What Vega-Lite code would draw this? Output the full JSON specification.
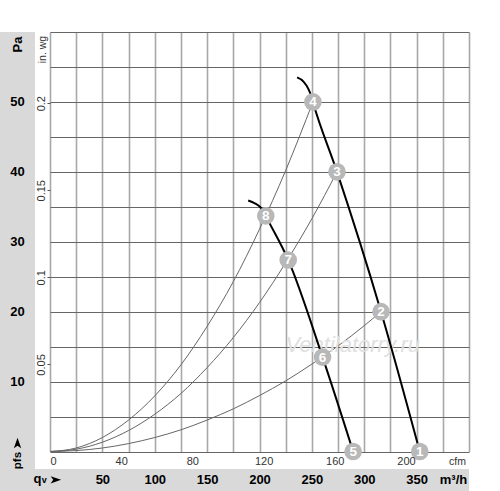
{
  "$schema": "https://vega.github.io/schema/vega-lite/v6.json",
  "width": 419,
  "height": 419.5,
  "autosize": {"type": "none"},
  "padding": {"left": 50, "top": 32, "right": 31, "bottom": 39.5},
  "background": "white",
  "config": {"view": {"stroke": null}, "font": "Liberation Sans"},
  "datasets": {
    "system": [
      {"s": "S1", "q": 0, "pa": 0}, {"s": "S1", "q": 25, "pa": 0.5}, {"s": "S1", "q": 50, "pa": 2}, {"s": "S1", "q": 75, "pa": 4.5}, {"s": "S1", "q": 100, "pa": 7.95}, {"s": "S1", "q": 125, "pa": 12.4}, {"s": "S1", "q": 150, "pa": 17.9}, {"s": "S1", "q": 175, "pa": 24.3}, {"s": "S1", "q": 200, "pa": 31.8}, {"s": "S1", "q": 225, "pa": 40.2}, {"s": "S1", "q": 251, "pa": 50},
      {"s": "S2", "q": 0, "pa": 0}, {"s": "S2", "q": 25, "pa": 0.33}, {"s": "S2", "q": 50, "pa": 1.33}, {"s": "S2", "q": 75, "pa": 3}, {"s": "S2", "q": 100, "pa": 5.33}, {"s": "S2", "q": 125, "pa": 8.3}, {"s": "S2", "q": 150, "pa": 12}, {"s": "S2", "q": 175, "pa": 16.3}, {"s": "S2", "q": 200, "pa": 21.3}, {"s": "S2", "q": 225, "pa": 27}, {"s": "S2", "q": 250, "pa": 33.3}, {"s": "S2", "q": 274, "pa": 40},
      {"s": "S3", "q": 0, "pa": 0}, {"s": "S3", "q": 25, "pa": 0.13}, {"s": "S3", "q": 50, "pa": 0.5}, {"s": "S3", "q": 75, "pa": 1.13}, {"s": "S3", "q": 100, "pa": 2}, {"s": "S3", "q": 125, "pa": 3.1}, {"s": "S3", "q": 150, "pa": 4.5}, {"s": "S3", "q": 175, "pa": 6.1}, {"s": "S3", "q": 200, "pa": 8}, {"s": "S3", "q": 225, "pa": 10.1}, {"s": "S3", "q": 250, "pa": 12.5}, {"s": "S3", "q": 275, "pa": 15.1}, {"s": "S3", "q": 300, "pa": 18}, {"s": "S3", "q": 316, "pa": 20}
    ],
    "fan": [
      {"s": "A", "q": 235.9, "pa": 53.5}, {"s": "A", "q": 242, "pa": 52.9}, {"s": "A", "q": 246.5, "pa": 51.9}, {"s": "A", "q": 249.5, "pa": 50.8}, {"s": "A", "q": 251, "pa": 50}, {"s": "A", "q": 274, "pa": 40}, {"s": "A", "q": 316, "pa": 20}, {"s": "A", "q": 353, "pa": 0},
      {"s": "B", "q": 189.2, "pa": 35.9}, {"s": "B", "q": 195.6, "pa": 35.5}, {"s": "B", "q": 200.4, "pa": 35}, {"s": "B", "q": 203.7, "pa": 34.4}, {"s": "B", "q": 206, "pa": 33.7}, {"s": "B", "q": 227.4, "pa": 27.4}, {"s": "B", "q": 260.2, "pa": 13.5}, {"s": "B", "q": 289.4, "pa": 0}
    ],
    "points": [
      {"n": "1", "q": 353, "pa": 0}, {"n": "2", "q": 316, "pa": 20}, {"n": "3", "q": 274, "pa": 40}, {"n": "4", "q": 251, "pa": 50},
      {"n": "5", "q": 289.4, "pa": 0}, {"n": "6", "q": 260.2, "pa": 13.5}, {"n": "7", "q": 227.4, "pa": 27.4}, {"n": "8", "q": 206, "pa": 33.7}
    ]
  },
  "layer": [
    {
      "data": {"values": [{}]},
      "mark": {"type": "rect", "color": "#d9d9d9"},
      "encoding": {
        "x": {"datum": -47.8, "type": "quantitative", "scale": {"domain": [0, 400], "nice": false}, "axis": null},
        "x2": {"datum": -14.32},
        "y": {"datum": 60, "type": "quantitative", "scale": {"domain": [0, 60], "nice": false}, "axis": null},
        "y2": {"datum": -6}
      }
    },
    {
      "data": {"values": [{}]},
      "mark": {"type": "rect", "color": "#d9d9d9"},
      "encoding": {
        "x": {"datum": -47.8, "type": "quantitative", "scale": {"domain": [0, 400], "nice": false}, "axis": null},
        "x2": {"datum": 400},
        "y": {"datum": -2.5, "type": "quantitative", "scale": {"domain": [0, 60], "nice": false}, "axis": null},
        "y2": {"datum": -6}
      }
    },
    {
      "data": {"name": "system"},
      "mark": {"type": "line", "interpolate": "monotone", "color": "#666666", "strokeWidth": 1},
      "encoding": {
        "x": {"field": "q", "type": "quantitative", "scale": {"domain": [0, 400], "nice": false},
          "axis": {"orient": "bottom", "values": [0, 25, 50, 75, 100, 125, 150, 175, 200, 225, 250, 275, 300, 325, 350, 375, 400], "grid": true, "gridColor": "#a8a8a8", "gridWidth": 1.6, "labels": false, "ticks": false, "domain": false, "title": null, "zindex": 0}},
        "y": {"field": "pa", "type": "quantitative", "scale": {"domain": [0, 60], "nice": false},
          "axis": {"orient": "left", "values": [0, 5, 10, 15, 20, 25, 30, 35, 40, 45, 50, 55, 60], "grid": true, "gridColor": "#666666", "gridWidth": 1, "labels": false, "ticks": false, "domain": false, "title": null, "zindex": 0}},
        "detail": {"field": "s"}
      }
    },
    {
      "data": {"values": [{}]},
      "mark": {"type": "text", "text": "Ventilatorry.ru", "fontSize": 22, "fontStyle": "italic", "color": "#e0e0e0", "align": "center", "baseline": "middle"},
      "encoding": {
        "x": {"datum": 289, "type": "quantitative", "scale": {"domain": [0, 400], "nice": false}, "axis": null},
        "y": {"datum": 15.2, "type": "quantitative", "scale": {"domain": [0, 60], "nice": false}, "axis": null}
      }
    },
    {
      "data": {"name": "fan"},
      "mark": {"type": "line", "interpolate": "monotone", "color": "#000000", "strokeWidth": 2},
      "encoding": {
        "x": {"field": "q", "type": "quantitative", "scale": {"domain": [0, 400], "nice": false},
          "axis": {"orient": "bottom", "values": [50, 100, 150, 200, 250, 300, 350], "grid": false, "domain": false, "ticks": false, "tickSize": 0, "labelPadding": 28, "labelBaseline": "middle", "labelFontSize": 13, "labelFontWeight": "bold", "labelColor": "#000000", "labelFont": "Liberation Sans",
            "title": "m³/h", "titleX": 403, "titleY": 28, "titleAlign": "center", "titleBaseline": "middle", "titleFontSize": 13, "titleFontWeight": "bold", "titleColor": "#000000", "titleFont": "Liberation Sans", "zindex": 1}},
        "y": {"field": "pa", "type": "quantitative", "scale": {"domain": [0, 60], "nice": false},
          "axis": {"orient": "left", "values": [10, 20, 30, 40, 50], "grid": false, "domain": false, "ticks": false, "tickSize": 0, "labelPadding": 33, "labelAlign": "center", "labelBaseline": "middle", "labelFontSize": 13, "labelFontWeight": "bold", "labelColor": "#000000", "labelFont": "Liberation Sans",
            "title": "Pa", "titleX": -33, "titleY": 12, "titleAngle": -90, "titleAlign": "center", "titleBaseline": "middle", "titleFontSize": 13, "titleFontWeight": "bold", "titleColor": "#000000", "titleFont": "Liberation Sans", "zindex": 1}},
        "detail": {"field": "s"}
      }
    },
    {
      "data": {"name": "points"},
      "mark": {"type": "circle", "color": "#b8b8b8", "opacity": 1, "size": 310},
      "encoding": {
        "x": {"field": "q", "type": "quantitative", "scale": {"domain": [0, 400], "nice": false},
          "axis": {"orient": "bottom", "values": [0, 67.96, 135.92, 203.88, 271.84, 339.8], "labelExpr": "'' + round(datum.value / 1.69901)", "grid": false, "domain": false, "ticks": false, "tickSize": 0, "labelPadding": 4, "labelFontSize": 11, "labelColor": "#333333", "labelFont": "Liberation Sans",
            "title": "cfm", "titleX": 407, "titleY": 10, "titleAlign": "center", "titleBaseline": "middle", "titleFontSize": 10.5, "titleFontWeight": "normal", "titleColor": "#333333", "titleFont": "Liberation Sans", "zindex": 1}},
        "y": {"field": "pa", "type": "quantitative", "scale": {"domain": [0, 60], "nice": false},
          "axis": {"orient": "left", "values": [12.4544, 24.9089, 37.3633, 49.8178], "labelExpr": "format(datum.value / 249.089, '.2~f')", "grid": false, "domain": false, "ticks": true, "tickSize": 3, "tickColor": "#555555", "labelPadding": 6, "labelAngle": -90, "labelAlign": "center", "labelBaseline": "middle", "labelFontSize": 11, "labelColor": "#333333", "labelFont": "Liberation Sans",
            "title": "in. wg", "titleX": -8, "titleY": 17, "titleAngle": -90, "titleAlign": "center", "titleBaseline": "middle", "titleFontSize": 10.5, "titleFontWeight": "normal", "titleColor": "#333333", "titleFont": "Liberation Sans", "zindex": 1}}
      }
    },
    {
      "data": {"name": "points"},
      "mark": {"type": "text", "color": "#ffffff", "fontSize": 13.5, "fontWeight": "bold", "align": "center", "baseline": "middle", "dy": 0.5},
      "encoding": {
        "x": {"field": "q", "type": "quantitative", "scale": {"domain": [0, 400], "nice": false}, "axis": null},
        "y": {"field": "pa", "type": "quantitative", "scale": {"domain": [0, 60], "nice": false}, "axis": null},
        "text": {"field": "n"}
      }
    },
    {
      "data": {"values": [{}]},
      "mark": {"type": "text", "text": "pfs", "angle": 270, "fontSize": 11.5, "fontWeight": "bold", "color": "#000000", "align": "center", "baseline": "middle"},
      "encoding": {
        "x": {"datum": -31, "type": "quantitative", "scale": {"domain": [0, 400], "nice": false}, "axis": null},
        "y": {"datum": -1.3, "type": "quantitative", "scale": {"domain": [0, 60], "nice": false}, "axis": null}
      }
    },
    {
      "data": {"values": [{}]},
      "mark": {"type": "point", "filled": true, "color": "#000000", "opacity": 1, "size": 110, "shape": "M-0.7,1L0,-1L0.7,1L0,0.5Z"},
      "encoding": {
        "x": {"datum": -31, "type": "quantitative", "scale": {"domain": [0, 400], "nice": false}, "axis": null},
        "y": {"datum": 1.2, "type": "quantitative", "scale": {"domain": [0, 60], "nice": false}, "axis": null}
      }
    },
    {
      "data": {"values": [{}]},
      "mark": {"type": "text", "text": "q", "fontSize": 13, "fontWeight": "bold", "color": "#000000", "align": "center", "baseline": "alphabetic"},
      "encoding": {
        "x": {"datum": -12, "type": "quantitative", "scale": {"domain": [0, 400], "nice": false}, "axis": null},
        "y": {"datum": -4.55, "type": "quantitative", "scale": {"domain": [0, 60], "nice": false}, "axis": null}
      }
    },
    {
      "data": {"values": [{}]},
      "mark": {"type": "text", "text": "v", "fontSize": 9, "fontWeight": "bold", "color": "#000000", "align": "center", "baseline": "alphabetic"},
      "encoding": {
        "x": {"datum": -5.6, "type": "quantitative", "scale": {"domain": [0, 400], "nice": false}, "axis": null},
        "y": {"datum": -4.55, "type": "quantitative", "scale": {"domain": [0, 60], "nice": false}, "axis": null}
      }
    },
    {
      "data": {"values": [{}]},
      "mark": {"type": "point", "filled": true, "color": "#000000", "opacity": 1, "size": 110, "shape": "M-1,-0.7L1,0L-1,0.7L-0.5,0Z"},
      "encoding": {
        "x": {"datum": 5.6, "type": "quantitative", "scale": {"domain": [0, 400], "nice": false}, "axis": null},
        "y": {"datum": -4.05, "type": "quantitative", "scale": {"domain": [0, 60], "nice": false}, "axis": null}
      }
    }
  ],
  "resolve": {"axis": {"x": "independent", "y": "independent"}}
}
